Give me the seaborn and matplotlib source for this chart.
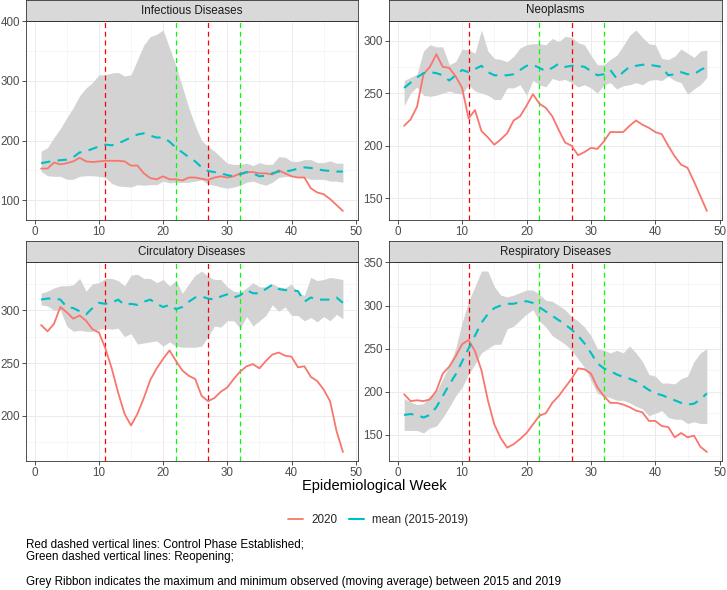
import numpy as np
import pandas as pd
import seaborn as sns
import matplotlib.pyplot as plt
from matplotlib.ticker import MultipleLocator
from matplotlib.lines import Line2D

# data
weeks = list(range(1, 49))
panels = ["Infectious Diseases", "Neoplasms", "Circulatory Diseases", "Respiratory Diseases"]

inf_2020 = [153, 153, 163, 160, 162, 165, 171, 165, 164, 165, 166, 166, 166, 165, 158, 158,
            145, 137, 135, 140, 135, 135, 133, 138, 138, 136, 134, 138, 140, 138, 140, 145,
            147, 147, 145, 145, 143, 150, 145, 140, 138, 138, 120, 113, 110, 102, 92, 82]
inf_mean = [162, 164, 166, 167, 168, 172, 180, 182, 186, 190, 193, 192, 195, 200, 205, 210,
            212, 208, 205, 205, 198, 188, 180, 172, 165, 155, 149, 147, 145, 142, 140, 143,
            147, 145, 140, 141, 145, 148, 148, 150, 153, 155, 154, 152, 150, 149, 148, 148]
inf_max = [182, 188, 205, 220, 238, 255, 275, 288, 297, 310, 310, 313, 314, 308, 310, 335,
           360, 374, 378, 385, 355, 325, 290, 255, 225, 200, 190, 182, 172, 162, 160, 160,
           162, 158, 163, 160, 160, 173, 172, 165, 165, 168, 168, 163, 163, 166, 162, 162]
inf_min = [148, 141, 140, 140, 135, 135, 140, 141, 141, 140, 138, 128, 124, 123, 122, 126,
           125, 126, 126, 132, 129, 130, 130, 130, 132, 134, 127, 125, 122, 120, 122, 125,
           130, 132, 128, 125, 130, 138, 140, 140, 140, 138, 135, 135, 135, 132, 132, 130]

neo_2020 = [219, 225, 237, 268, 275, 287, 275, 274, 266, 255, 226, 234, 214, 208, 201, 206,
            212, 224, 228, 238, 249, 240, 236, 228, 215, 203, 200, 191, 194, 198, 197, 204,
            213, 213, 213, 219, 224, 220, 217, 213, 211, 200, 190, 182, 179, 166, 152, 138]
neo_mean = [255, 260, 265, 269, 270, 269, 267, 262, 267, 272, 270, 273, 276, 270, 267, 267,
            267, 268, 272, 276, 277, 274, 271, 274, 278, 275, 276, 276, 275, 271, 267, 268,
            272, 264, 270, 275, 276, 277, 277, 276, 275, 267, 268, 270, 268, 268, 272, 275]
neo_max = [262, 265, 268, 290, 296, 294, 294, 277, 280, 292, 291, 288, 310, 290, 283, 282,
           280, 285, 293, 296, 297, 297, 296, 302, 299, 304, 303, 298, 296, 286, 277, 277,
           282, 286, 295, 305, 310, 303, 297, 296, 283, 282, 285, 292, 288, 284, 290, 291]
neo_min = [238, 250, 256, 248, 247, 248, 250, 252, 250, 249, 258, 252, 250, 248, 244, 244,
           255, 255, 258, 248, 262, 258, 256, 264, 262, 263, 260, 256, 258, 255, 250, 258,
           260, 254, 257, 258, 260, 258, 262, 263, 262, 266, 262, 260, 249, 254, 258, 265]

cir_2020 = [286, 280, 287, 303, 298, 292, 295, 290, 282, 279, 264, 245, 222, 202, 191, 202,
            217, 234, 245, 254, 262, 252, 243, 238, 235, 219, 214, 217, 223, 227, 235, 242,
            247, 249, 245, 252, 258, 260, 257, 256, 246, 247, 237, 233, 225, 214, 186, 166]
cir_mean = [310, 311, 311, 310, 303, 302, 299, 296, 302, 307, 306, 307, 310, 305, 306, 305,
            308, 310, 306, 303, 305, 301, 303, 308, 312, 313, 311, 310, 313, 315, 312, 314,
            319, 316, 316, 320, 324, 320, 319, 319, 318, 308, 312, 310, 310, 310, 312, 307]
cir_max = [316, 318, 321, 323, 323, 324, 330, 318, 325, 326, 330, 330, 328, 323, 333, 334,
           330, 330, 326, 329, 323, 328, 316, 325, 333, 337, 332, 329, 329, 322, 318, 317,
           321, 326, 322, 322, 325, 322, 321, 325, 316, 314, 331, 328, 329, 331, 330, 329]
cir_min = [305, 304, 300, 300, 285, 280, 281, 280, 280, 282, 283, 282, 283, 275, 278, 268,
           269, 270, 271, 266, 270, 266, 265, 265, 265, 266, 275, 285, 284, 290, 290, 283,
           294, 285, 290, 295, 305, 299, 303, 295, 295, 290, 293, 289, 294, 290, 296, 292]

res_2020 = [197, 189, 190, 189, 191, 201, 221, 229, 241, 255, 260, 247, 225, 190, 162, 146,
            135, 139, 145, 152, 162, 172, 175, 187, 195, 205, 215, 227, 226, 221, 205, 195,
            187, 187, 185, 182, 178, 176, 166, 166, 160, 159, 147, 152, 147, 149, 136, 130]
res_mean = [173, 174, 173, 170, 173, 182, 195, 208, 220, 235, 250, 265, 280, 290, 297, 300,
            302, 302, 304, 305, 303, 298, 293, 288, 283, 278, 272, 265, 256, 245, 233, 227,
            224, 220, 217, 215, 212, 207, 202, 198, 196, 193, 190, 187, 185, 186, 191, 198]
res_max = [192, 188, 185, 186, 195, 200, 215, 230, 250, 280, 305, 322, 340, 340, 322, 312,
           310, 312, 315, 318, 318, 313, 306, 305, 300, 295, 287, 282, 275, 265, 250, 248,
           245, 248, 245, 253, 245, 235, 220, 218, 210, 210, 209, 215, 218, 235, 245, 250]
res_min = [155, 155, 155, 152, 158, 160, 170, 182, 195, 205, 220, 232, 245, 250, 255, 255,
           273, 276, 283, 290, 295, 282, 275, 265, 260, 255, 248, 238, 228, 213, 198, 195,
           193, 190, 190, 187, 183, 180, 172, 175, 178, 170, 168, 168, 163, 165, 163, 163]

control_weeks = [11, 27]
reopen_weeks = [22, 32]

series = {
    "Infectious Diseases": (inf_2020, inf_mean, inf_min, inf_max),
    "Neoplasms": (neo_2020, neo_mean, neo_min, neo_max),
    "Circulatory Diseases": (cir_2020, cir_mean, cir_min, cir_max),
    "Respiratory Diseases": (res_2020, res_mean, res_min, res_max),
}

sns.set_style("white")
plt.rcParams["font.family"] = ["Liberation Sans", "DejaVu Sans"]

RED = "#F8766D"
TEAL = "#00BFC4"
W, H = 727, 590
FS = 8.4

fig = plt.figure(figsize=(W / 100, H / 100), dpi=100)

# panel boxes in pixels: (left, top, right, bottom)
boxes = [(26, 21, 358, 220), (389, 21, 722, 220),
         (26, 262, 358, 461), (389, 262, 722, 461)]
strip_h = 21
steps = [100, 50, 50, 50]

for name, (l, t, r, b), step in zip(panels, boxes, steps):
    y2020, ymean, ymin, ymax = series[name]
    df = pd.DataFrame({"week": weeks, "2020": y2020, "mean": ymean})

    ax = fig.add_axes([l / W, 1 - b / H, (r - l) / W, (b - t) / H])
    ax.fill_between(weeks, ymin, ymax, color="#D3D3D3", lw=0, zorder=1)
    for wk in control_weeks:
        ax.axvline(wk, color="#FF0000", ls=(0, (4, 3)), lw=0.9, zorder=2)
    for wk in reopen_weeks:
        ax.axvline(wk, color="#00FF00", ls=(0, (4, 3)), lw=0.9, zorder=2)
    sns.lineplot(data=df, x="week", y="2020", ax=ax, color=RED, lw=1.3, zorder=3)
    sns.lineplot(data=df, x="week", y="mean", ax=ax, color=TEAL, lw=1.5, zorder=4,
                 linestyle=(0, (4.5, 3.5)))

    ax.set_xlim(-1.35, 50.35)
    lo = min(min(y2020), min(ymin))
    hi = max(max(y2020), max(ymax))
    pad = (hi - lo) * 0.05
    ax.set_ylim(lo - pad, hi + pad)
    ax.xaxis.set_major_locator(MultipleLocator(10))
    ax.xaxis.set_minor_locator(MultipleLocator(5))
    ax.yaxis.set_major_locator(MultipleLocator(step))
    ax.yaxis.set_minor_locator(MultipleLocator(step / 2))
    ax.grid(which="major", color="#EBEBEB", lw=0.7, zorder=0)
    ax.grid(which="minor", color="#F3F3F3", lw=0.5, zorder=0)
    ax.set_axisbelow(True)
    ax.set_xlabel("")
    ax.set_ylabel("")
    ax.tick_params(which="major", length=2.6, width=0.6, color="#333333",
                   labelsize=FS, labelcolor="#4D4D4D", pad=1.8, left=True, bottom=True)
    ax.tick_params(which="minor", length=0)
    for sp in ax.spines.values():
        sp.set_color("#333333")
        sp.set_linewidth(0.6)
    if ax.get_legend():
        ax.get_legend().remove()

    # facet strip
    sax = fig.add_axes([l / W, 1 - t / H, (r - l) / W, strip_h / H])
    sax.set_facecolor("#D9D9D9")
    sax.set_xticks([])
    sax.set_yticks([])
    for sp in sax.spines.values():
        sp.set_color("#333333")
        sp.set_linewidth(0.6)
    sax.text(0.5, 0.5, name, ha="center", va="center", fontsize=FS,
             color="#1A1A1A", transform=sax.transAxes)

fig.text(374 / W, 1 - 486 / H, "Epidemiological Week", ha="center", va="center",
         fontsize=10.5, color="black")

handles = [Line2D([], [], color=RED, lw=1.3),
           Line2D([], [], color=TEAL, lw=1.5)]
fig.legend(handles, ["2020", "mean (2015-2019)"], loc="center",
           bbox_to_anchor=(378 / W, 1 - 520 / H), ncol=2, frameon=False,
           fontsize=FS, handlelength=1.3, columnspacing=0.95, handletextpad=0.75,
           borderpad=0, borderaxespad=0)

caption_top = ("Red dashed vertical lines: Control Phase Established;\n"
               "Green dashed vertical lines: Reopening;")
caption_bottom = "Grey Ribbon indicates the maximum and minimum observed (moving average) between 2015 and 2019"
fig.text(26 / W, 1 - 551 / H, caption_top, ha="left", va="center", fontsize=FS,
         linespacing=1.05, color="black")
fig.text(26 / W, 1 - 582 / H, caption_bottom, ha="left", va="center", fontsize=FS,
         color="black")

fig.savefig("out.png", dpi=100)
